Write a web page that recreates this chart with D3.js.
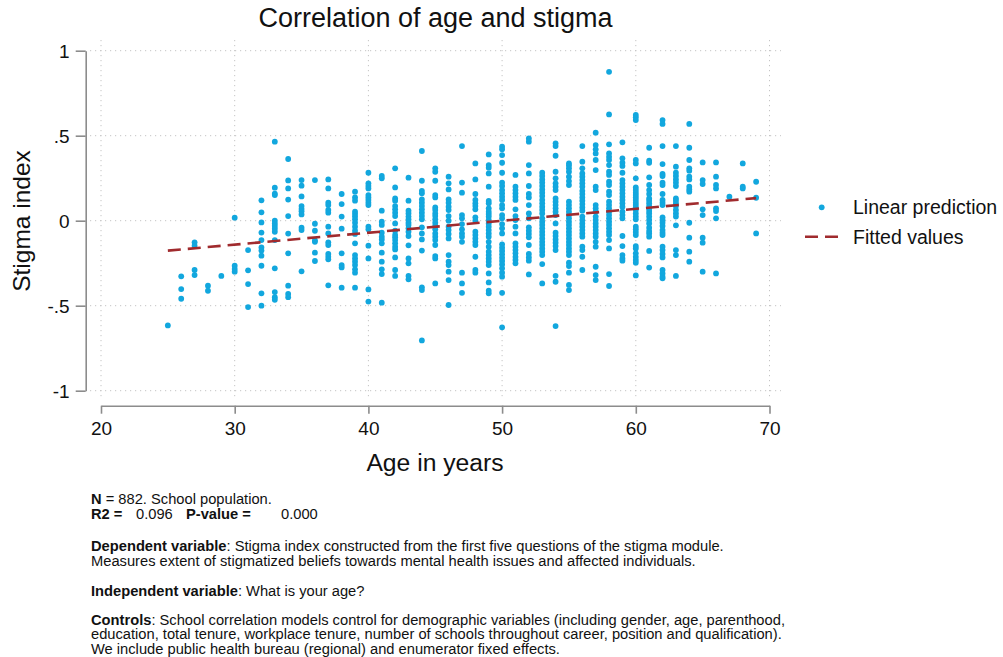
<!DOCTYPE html>
<html>
<head>
<meta charset="utf-8">
<script src="https://cdn.jsdelivr.net/npm/d3@7"></script>
<style>
  html, body { margin: 0; padding: 0; background: #fff; }
  svg { display: block; font-family: "Liberation Sans", Arial, sans-serif; }
</style>
</head>
<body>
<svg id="chart" width="1003" height="657"></svg>
<script>
// Ages (years) with one list of stigma-index values per age
const ages = [25,26,27,28,29,30,31,32,33,34,35,36,37,38,39,40,41,42,43,44,45,46,47,48,49,50,51,52,53,54,55,56,57,58,59,60,61,62,63,64,65,66,67,68,69];
const stigmaByAge = [
  [-0.616],
  [-0.327,-0.402,-0.459],
  [-0.127,-0.147,-0.29,-0.32],
  [-0.382,-0.412],
  [-0.325],
  [0.018,-0.265,-0.284,-0.30],
  [-0.173,-0.292,-0.373,-0.508],
  [0.12,0.049,-0.01,-0.07,-0.114,-0.157,-0.176,-0.206,-0.265,-0.427,-0.5],
  [0.465,0.194,0.159,0.151,0.0,-0.016,-0.031,-0.047,-0.065,-0.114,-0.28,-0.42,-0.45,-0.465],
  [0.363,0.237,0.19,0.124,0.027,-0.076,-0.192,-0.382,-0.431,-0.45],
  [0.239,0.206,0.143,0.086,0.069,0.055,0.037,-0.041,-0.055,-0.298],
  [0.239,-0.018,-0.059,-0.116,-0.124,-0.188,-0.237],
  [0.243,0.19,0.106,0.092,0.063,0.047,-0.035,-0.075,-0.127,-0.143,-0.196,-0.212,-0.227,-0.38],
  [0.157,0.098,0.024,-0.047,-0.192,-0.261,-0.275,-0.394],
  [0.171,0.137,0.118,0.053,0.039,0.024,0.008,-0.012,-0.035,-0.059,-0.078,-0.133,-0.202,-0.222,-0.241,-0.261,-0.286,-0.306,-0.394],
  [0.282,0.22,0.204,0.19,0.151,0.137,0.122,0.106,0.092,-0.035,-0.051,-0.147,-0.222,-0.404,-0.476],
  [0.263,0.249,0.059,-0.006,-0.025,-0.071,-0.094,-0.11,-0.133,-0.188,-0.241,-0.286,-0.314,-0.482],
  [0.308,0.196,0.131,0.118,0.086,0.067,0.047,0.027,-0.016,-0.059,-0.084,-0.098,-0.114,-0.133,-0.153,-0.169,-0.216,-0.29,-0.325],
  [0.253,0.118,0.059,0.043,0.024,0.008,-0.012,-0.025,-0.045,-0.065,-0.09,-0.145,-0.222,-0.251,-0.325,-0.345],
  [0.41,0.235,0.176,0.161,0.125,0.106,0.086,0.067,0.047,0.027,0.008,-0.039,-0.075,-0.11,-0.176,-0.392,-0.408,-0.704],
  [0.308,0.288,0.235,0.151,0.137,0.078,0.063,0.043,0.027,0.008,-0.012,-0.031,-0.051,-0.075,-0.094,-0.114,-0.143,-0.208,-0.222,-0.369],
  [0.259,0.22,0.184,0.125,0.106,0.082,0.063,0.027,0,-0.035,-0.055,-0.078,-0.104,-0.202,-0.241,-0.261,-0.3,-0.349,-0.496],
  [0.439,0.224,0.165,0.033,0.014,-0.02,-0.051,-0.075,-0.094,-0.124,-0.306,-0.369,-0.424],
  [0.337,0.243,0.157,0.122,0.102,0.086,0.067,0.02,0,-0.065,-0.084,-0.104,-0.124,-0.143,-0.212,-0.29,-0.306],
  [0.39,0.327,0.312,0.278,0.2,0.116,0.102,0.073,0.053,0.039,0.024,0.004,-0.016,-0.035,-0.055,-0.075,-0.094,-0.124,-0.153,-0.182,-0.202,-0.222,-0.241,-0.261,-0.31,-0.363,-0.412,-0.427],
  [0.435,0.42,0.386,0.341,0.282,0.224,0.204,0.18,0.161,0.141,0.122,0.092,0.073,0.033,0.014,-0.02,-0.045,-0.075,-0.139,-0.159,-0.178,-0.198,-0.218,-0.237,-0.257,-0.28,-0.306,-0.329,-0.424,-0.627],
  [0.269,0.2,0.18,0.161,0.141,0.122,0.067,0.027,0.004,-0.035,-0.075,-0.133,-0.153,-0.173,-0.192,-0.212,-0.231,-0.251],
  [0.484,0.465,0.327,0.278,0.204,0.157,0.137,0.092,0.043,0.014,-0.039,-0.059,-0.078,-0.098,-0.143,-0.196,-0.216,-0.235,-0.316],
  [0.282,0.263,0.243,0.224,0.204,0.184,0.165,0.145,0.122,0.102,0.082,0.063,0.043,0.014,-0.006,-0.025,-0.045,-0.065,-0.084,-0.104,-0.124,-0.143,-0.163,-0.182,-0.202,-0.255,-0.369],
  [0.455,0.439,0.382,0.288,0.249,0.22,0.2,0.18,0.131,0.112,0.092,0.073,0.053,0.033,-0.016,-0.071,-0.09,-0.11,-0.129,-0.149,-0.173,-0.324,-0.359,-0.62],
  [0.337,0.324,0.308,0.288,0.259,0.233,0.21,0.112,0.092,0.073,0.053,0.033,0.014,-0.006,-0.025,-0.045,-0.065,-0.084,-0.104,-0.124,-0.143,-0.163,-0.182,-0.202,-0.247,-0.267,-0.306,-0.378,-0.408],
  [0.439,0.347,0.308,0.278,0.259,0.239,0.22,0.2,0.176,0.157,0.137,0.118,0.098,0.078,0.059,0.024,0.004,-0.016,-0.035,-0.055,-0.075,-0.094,-0.153,-0.173,-0.212,-0.29],
  [0.518,0.445,0.42,0.396,0.357,0.298,0.2,0.18,0.092,0.073,0.053,0.024,0.004,-0.016,-0.035,-0.055,-0.075,-0.094,-0.124,-0.153,-0.271,-0.32,-0.349],
  [0.876,0.625,0.449,0.396,0.376,0.357,0.327,0.288,0.269,0.229,0.21,0.171,0.151,0.112,0.092,0.073,0.053,0.033,0.014,-0.006,-0.025,-0.045,-0.065,-0.084,-0.114,-0.163,-0.314,-0.384],
  [0.461,0.367,0.341,0.322,0.282,0.239,0.22,0.2,0.18,0.161,0.141,0.122,0.102,0.082,0.053,0.033,0.014,-0.09,-0.149,-0.202,-0.222,-0.235],
  [0.622,0.608,0.592,0.357,0.337,0.249,0.196,0.18,0.165,0.151,0.137,0.122,0.106,0.092,0.078,0.063,0.043,0.024,0.008,-0.035,-0.051,-0.067,-0.084,-0.149,-0.163,-0.192,-0.212,-0.231,-0.247,-0.322],
  [0.429,0.353,0.341,0.255,0.21,0.18,0.157,0.131,0.118,0.102,0.086,0.073,0.057,0.043,0.024,0.004,-0.016,-0.041,-0.061,-0.075,-0.094,-0.178,-0.276],
  [0.592,0.569,0.439,0.333,0.275,0.263,0.224,0.21,0.157,0.122,0.106,0.092,0.02,0.004,-0.012,-0.031,-0.055,-0.071,-0.084,-0.153,-0.173,-0.196,-0.216,-0.29,-0.31,-0.329,-0.339],
  [0.439,0.318,0.282,0.263,0.243,0.224,0.204,0.131,0.118,0.102,0.086,0.063,0.043,0.024,-0.027,-0.173,-0.202,-0.325],
  [0.569,0.429,0.357,0.308,0.294,0.259,0.243,0.2,0.184,0.171,-0.012,-0.1,-0.182,-0.241],
  [0.343,0.239,0.216,0.067,0.033,-0.1,-0.129,-0.3],
  [0.343,0.259,0.21,0.19,0.073,0.057,0.014,-0.31],
  [0.141],
  [0.337,0.2,0.19],
  [0.229,0.135,-0.075]
];

// Fitted regression line, given by its two end points
const fitAges = [25, 69];
const fitValues = [-0.176, 0.133];

const xTicks = [20, 30, 40, 50, 60, 70];
const yTicks = [1, 0.5, 0, -0.5, -1];
const yTickLabels = ["1", ".5", "0", "-.5", "-1"];

const titleText = "Correlation of age and stigma";
const xTitle = "Age in years";
const yTitle = "Stigma index";
const legendLabels = ["Linear prediction", "Fitted values"];

const notes = [
  [{t: "N", b: true}, {t: " = 882. School population."}],
  null,
  [{t: "Dependent variable", b: true}, {t: ": Stigma index constructed from the first five questions of the stigma module."}],
  [{t: "Measures extent of stigmatized beliefs towards mental health issues and affected individuals."}],
  [{t: "Independent variable", b: true}, {t: ": What is your age?"}],
  [{t: "Controls", b: true}, {t: ": School correlation models control for demographic variables (including gender, age, parenthood,"}],
  [{t: "education, total tenure, workplace tenure, number of schools throughout career, position and qualification)."}],
  [{t: "We include public health bureau (regional) and enumerator fixed effects."}]
];
const noteBaselines = [504, 518.8, 551, 565.6, 595.5, 624.8, 639.4, 654];

// ---- drawing ----
const svg = d3.select("#chart");
const dotColor = "#12a7de";
const fitColor = "#a02b2e";
const axisColor = "#8c8c8c";
const gridColor = "#c4c4c4";

const x = d3.scaleLinear().domain([20, 70]).range([101, 769.5]);
const y = d3.scaleLinear().domain([-1, 1]).range([390.7, 50.7]);

// dotted grid
const grid = svg.append("g");
grid.selectAll("line.h").data(yTicks).join("line")
  .attr("x1", 90).attr("x2", 781)
  .attr("y1", d => y(d)).attr("y2", d => y(d))
  .attr("stroke", gridColor).attr("stroke-width", 1)
  .attr("stroke-dasharray", "1.2,3.8");
grid.selectAll("line.v").data(xTicks).join("line")
  .attr("y1", 40).attr("y2", 400)
  .attr("x1", d => x(d)).attr("x2", d => x(d))
  .attr("stroke", gridColor).attr("stroke-width", 1)
  .attr("stroke-dasharray", "1.2,3.8");

// y axis, offset to the left of the plot region
const yAxis = d3.axisLeft(y).tickValues(yTicks)
  .tickFormat((d, i) => yTickLabels[i]).tickSize(10).tickSizeOuter(0).tickPadding(6);
const gy = svg.append("g").attr("transform", "translate(85.7,0)").call(yAxis);
gy.select(".domain").attr("stroke", axisColor).attr("stroke-width", 1.6);
gy.selectAll(".tick line").attr("stroke", axisColor).attr("stroke-width", 1.6);
gy.selectAll(".tick text").attr("font-size", 19).attr("fill", "#111")
  .attr("font-family", "'Liberation Sans', Arial, sans-serif").attr("dy", "0.38em");

// x axis, offset below the plot region
const xAxis = d3.axisBottom(x).tickValues(xTicks)
  .tickSize(8).tickSizeOuter(0).tickPadding(8);
const gx = svg.append("g").attr("transform", "translate(0,405.7)").call(xAxis);
gx.select(".domain").attr("stroke", axisColor).attr("stroke-width", 1.6);
gx.selectAll(".tick line").attr("stroke", axisColor).attr("stroke-width", 1.6);
gx.selectAll(".tick text").attr("font-size", 19).attr("fill", "#111")
  .attr("font-family", "'Liberation Sans', Arial, sans-serif");

// scatter points
const points = [];
ages.forEach((a, i) => stigmaByAge[i].forEach(v => points.push({age: a, v})));
svg.append("g").selectAll("circle").data(points).join("circle")
  .attr("cx", d => x(d.age)).attr("cy", d => y(d.v)).attr("r", 2.9)
  .attr("fill", dotColor);

// fitted line
const fitData = fitAges.map((a, i) => [a, fitValues[i]]);
svg.append("path").datum(fitData)
  .attr("d", d3.line().x(d => x(d[0])).y(d => y(d[1])))
  .attr("fill", "none").attr("stroke", fitColor).attr("stroke-width", 2.6)
  .attr("stroke-dasharray", "13,7");

// titles
svg.append("text").attr("x", 435.5).attr("y", 27).attr("text-anchor", "middle")
  .attr("font-size", 27).attr("fill", "#111").text(titleText);
svg.append("text").attr("x", 435).attr("y", 471).attr("text-anchor", "middle")
  .attr("font-size", 24.7).attr("fill", "#111").text(xTitle);
svg.append("text").attr("transform", "translate(30,221) rotate(-90)")
  .attr("text-anchor", "middle").attr("font-size", 24.5).attr("fill", "#111").text(yTitle);

// legend
const lg = svg.append("g");
lg.append("circle").attr("cx", 821.7).attr("cy", 207.3).attr("r", 2.9).attr("fill", dotColor);
lg.append("line").attr("x1", 805).attr("x2", 839).attr("y1", 236.7).attr("y2", 236.7)
  .attr("stroke", fitColor).attr("stroke-width", 2.6).attr("stroke-dasharray", "13,7");
lg.selectAll("text").data(legendLabels).join("text")
  .attr("x", 853).attr("y", (d, i) => 214 + i * 30)
  .attr("font-size", 19.5).attr("fill", "#111").text(d => d);

// notes below the chart
const ng = svg.append("g").attr("font-size", 14.7).attr("fill", "#111");
notes.forEach((line, i) => {
  if (!line) return;
  const t = ng.append("text").attr("x", 91).attr("y", noteBaselines[i]);
  line.forEach(seg => t.append("tspan").attr("font-weight", seg.b ? "bold" : null).text(seg.t));
});
// statistics line with its own column positions
const stats = [
  {t: "R2 =", b: true, x: 91},
  {t: "0.096", x: 136},
  {t: "P-value =", b: true, x: 186},
  {t: "0.000", x: 281}
];
ng.selectAll("text.stat").data(stats).join("text").attr("class", "stat")
  .attr("x", d => d.x).attr("y", noteBaselines[1])
  .attr("font-weight", d => d.b ? "bold" : null).text(d => d.t);
</script>
</body>
</html>
